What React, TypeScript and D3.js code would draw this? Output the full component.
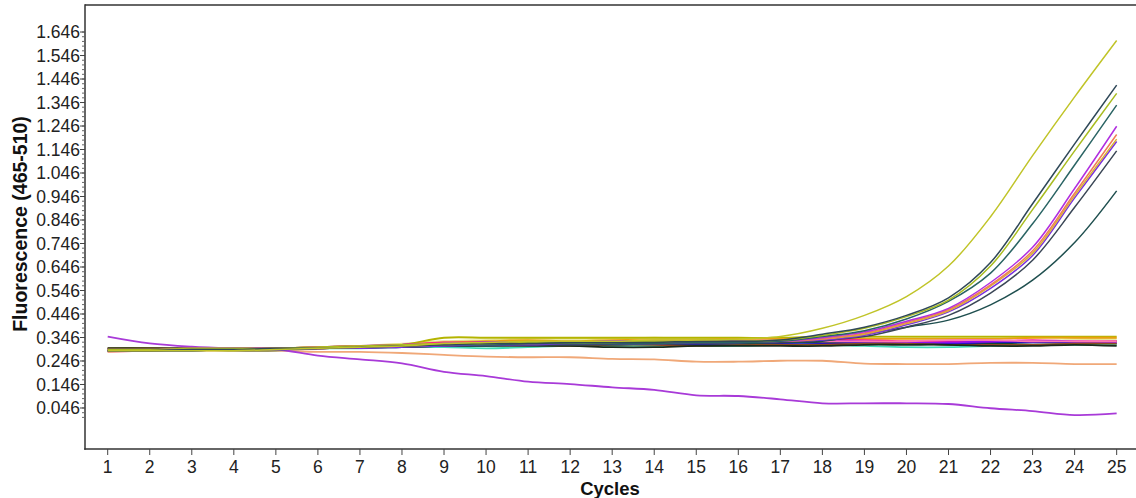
import React from 'react';
import * as d3 from 'd3';

const cycles = [1, 2, 3, 4, 5, 6, 7, 8, 9, 10, 11, 12, 13, 14, 15, 16, 17, 18, 19, 20, 21, 22, 23, 24, 25];
const yTickValues = [0.046, 0.146, 0.246, 0.346, 0.446, 0.546, 0.646, 0.746, 0.846, 0.946, 1.046, 1.146, 1.246, 1.346, 1.446, 1.546, 1.646];
const yTickLabels = ['0.046', '0.146', '0.246', '0.346', '0.446', '0.546', '0.646', '0.746', '0.846', '0.946', '1.046', '1.146', '1.246', '1.346', '1.446', '1.546', '1.646'];
const xAxisTitle = 'Cycles';
const yAxisTitle = 'Fluorescence (465-510)';

// flat (non-amplifying) samples
const flatOlive = [0.29, 0.29, 0.295, 0.3, 0.3, 0.305, 0.31, 0.315, 0.345, 0.345, 0.345, 0.345, 0.345, 0.345, 0.345, 0.345, 0.345, 0.35, 0.35, 0.35, 0.35, 0.35, 0.35, 0.35, 0.35];
const flatKhaki = [0.3, 0.3, 0.3, 0.3, 0.3, 0.305, 0.31, 0.32, 0.33, 0.335, 0.34, 0.34, 0.34, 0.345, 0.34, 0.34, 0.34, 0.345, 0.345, 0.345, 0.345, 0.345, 0.345, 0.34, 0.34];
const flatGreen = [0.3, 0.3, 0.295, 0.29, 0.29, 0.3, 0.305, 0.31, 0.315, 0.32, 0.32, 0.315, 0.315, 0.32, 0.32, 0.32, 0.32, 0.325, 0.325, 0.325, 0.32, 0.32, 0.325, 0.325, 0.33];
const flatOrange = [0.295, 0.3, 0.295, 0.295, 0.3, 0.305, 0.31, 0.315, 0.325, 0.33, 0.335, 0.33, 0.335, 0.335, 0.335, 0.34, 0.34, 0.34, 0.34, 0.34, 0.34, 0.34, 0.345, 0.345, 0.345];
const flatBlue = [0.29, 0.29, 0.295, 0.295, 0.3, 0.3, 0.305, 0.31, 0.315, 0.315, 0.32, 0.32, 0.32, 0.315, 0.315, 0.32, 0.32, 0.32, 0.325, 0.32, 0.32, 0.325, 0.325, 0.325, 0.32];
const flatMagenta = [0.29, 0.29, 0.3, 0.3, 0.3, 0.3, 0.305, 0.315, 0.325, 0.325, 0.325, 0.325, 0.32, 0.32, 0.325, 0.325, 0.33, 0.335, 0.335, 0.33, 0.33, 0.33, 0.335, 0.33, 0.33];
const flatAqua = [0.29, 0.29, 0.295, 0.295, 0.295, 0.3, 0.3, 0.305, 0.305, 0.3, 0.305, 0.31, 0.31, 0.31, 0.31, 0.31, 0.315, 0.315, 0.31, 0.305, 0.305, 0.31, 0.315, 0.315, 0.315];
const flatPurple = [0.295, 0.295, 0.3, 0.3, 0.3, 0.305, 0.31, 0.315, 0.32, 0.325, 0.325, 0.325, 0.33, 0.33, 0.325, 0.325, 0.33, 0.33, 0.33, 0.325, 0.325, 0.33, 0.33, 0.33, 0.325];
const flatBrown = [0.3, 0.3, 0.3, 0.3, 0.3, 0.3, 0.305, 0.31, 0.31, 0.315, 0.315, 0.31, 0.315, 0.315, 0.31, 0.315, 0.315, 0.315, 0.32, 0.32, 0.315, 0.315, 0.315, 0.32, 0.32];
const flatPink = [0.285, 0.29, 0.295, 0.3, 0.3, 0.3, 0.305, 0.31, 0.32, 0.32, 0.325, 0.325, 0.325, 0.33, 0.33, 0.33, 0.335, 0.33, 0.33, 0.33, 0.335, 0.335, 0.33, 0.33, 0.33];
const flatDark = [0.3, 0.3, 0.3, 0.3, 0.3, 0.3, 0.305, 0.305, 0.31, 0.31, 0.31, 0.31, 0.305, 0.305, 0.31, 0.31, 0.31, 0.31, 0.315, 0.315, 0.315, 0.31, 0.31, 0.315, 0.31];

// declining samples
const declineTan = [0.285, 0.29, 0.29, 0.29, 0.29, 0.285, 0.285, 0.28, 0.272, 0.265, 0.262, 0.262, 0.255, 0.253, 0.243, 0.243, 0.247, 0.247, 0.235, 0.233, 0.233, 0.238, 0.238, 0.233, 0.233];
const declinePurple = [0.35, 0.321, 0.307, 0.3, 0.296, 0.269, 0.253, 0.236, 0.2, 0.182, 0.158, 0.148, 0.134, 0.123, 0.1, 0.097, 0.083, 0.066, 0.066, 0.066, 0.063, 0.045, 0.033, 0.016, 0.023];

// amplifying samples
const ampYellowTop = [0.29, 0.29, 0.29, 0.29, 0.295, 0.3, 0.305, 0.31, 0.32, 0.325, 0.33, 0.33, 0.33, 0.335, 0.335, 0.34, 0.35, 0.385, 0.44, 0.52, 0.65, 0.86, 1.12, 1.37, 1.61];
const ampSlate = [0.29, 0.29, 0.295, 0.295, 0.3, 0.3, 0.305, 0.31, 0.315, 0.32, 0.32, 0.325, 0.325, 0.325, 0.33, 0.33, 0.335, 0.36, 0.39, 0.44, 0.515, 0.665, 0.915, 1.17, 1.42];
const ampYellowGreen = [0.295, 0.295, 0.3, 0.3, 0.3, 0.305, 0.31, 0.315, 0.32, 0.32, 0.325, 0.325, 0.325, 0.33, 0.33, 0.33, 0.335, 0.355, 0.385, 0.435, 0.505, 0.65, 0.89, 1.14, 1.385];
const ampTeal = [0.29, 0.29, 0.29, 0.295, 0.295, 0.3, 0.305, 0.31, 0.315, 0.315, 0.32, 0.32, 0.32, 0.32, 0.325, 0.325, 0.33, 0.35, 0.375, 0.425, 0.5, 0.62, 0.83, 1.08, 1.335];
const ampViolet = [0.295, 0.295, 0.3, 0.3, 0.3, 0.3, 0.305, 0.31, 0.32, 0.325, 0.325, 0.325, 0.33, 0.33, 0.33, 0.33, 0.33, 0.345, 0.37, 0.415, 0.47, 0.58, 0.73, 0.98, 1.245];
const ampSalmon = [0.29, 0.29, 0.295, 0.295, 0.3, 0.305, 0.31, 0.315, 0.32, 0.32, 0.325, 0.325, 0.325, 0.325, 0.33, 0.33, 0.33, 0.34, 0.365, 0.41, 0.465, 0.57, 0.715, 0.96, 1.21];
const ampGold = [0.295, 0.295, 0.3, 0.3, 0.3, 0.305, 0.31, 0.31, 0.315, 0.32, 0.32, 0.325, 0.325, 0.33, 0.33, 0.33, 0.335, 0.34, 0.36, 0.405, 0.46, 0.565, 0.705, 0.95, 1.19];
const ampBlueViolet = [0.29, 0.29, 0.29, 0.295, 0.295, 0.3, 0.3, 0.305, 0.31, 0.315, 0.315, 0.32, 0.32, 0.32, 0.325, 0.325, 0.33, 0.335, 0.355, 0.4, 0.455, 0.555, 0.695, 0.94, 1.18];
const ampDarkSlate = [0.29, 0.29, 0.295, 0.295, 0.3, 0.3, 0.305, 0.31, 0.31, 0.315, 0.315, 0.315, 0.32, 0.32, 0.32, 0.325, 0.325, 0.335, 0.35, 0.39, 0.44, 0.535, 0.675, 0.9, 1.14];
const ampDarkTeal = [0.29, 0.29, 0.29, 0.295, 0.295, 0.3, 0.3, 0.305, 0.31, 0.31, 0.315, 0.315, 0.315, 0.32, 0.32, 0.32, 0.325, 0.33, 0.36, 0.39, 0.42, 0.485, 0.59, 0.75, 0.97];

const seriesValues = [
  flatKhaki, flatOlive, flatGreen, flatOrange, flatBlue, flatMagenta, flatAqua, flatPurple, flatBrown, flatPink, flatDark,
  declineTan, declinePurple,
  ampDarkTeal, ampDarkSlate, ampBlueViolet, ampGold, ampSalmon, ampViolet, ampTeal, ampYellowGreen, ampSlate, ampYellowTop,
];
const seriesColors = [
  '#e6e08a', '#b4b400', '#0a5a0a', '#e8a010', '#2a10c0', '#ff1a8c', '#40dcb8', '#9010f0', '#8b4a20', '#ff78b0', '#1c2a1c',
  '#f0a878', '#a83ad8',
  '#1f4f4f', '#3a4656', '#7a30e0', '#d8b430', '#f07c58', '#b02ee0', '#2a6464', '#a8bc20', '#2f4858', '#c0c428',
];

export default function App() {
  const W = 1136;
  const H = 498;
  const x = d3.scaleLinear().domain([0.46, 25.46]).range([85, 1136]);
  const y = d3.scaleLinear().domain([-0.1285, 1.761]).range([449, 5]);
  const line = d3
    .line<number>()
    .x((_, i) => x(cycles[i]))
    .y((d) => y(d))
    .curve(d3.curveCatmullRom.alpha(0.5));
  const minor: number[] = [];
  for (let v = 0.006; v <= 1.647; v += 0.02) minor.push(v);
  const font = "'Liberation Sans', Arial, sans-serif";
  return (
    <svg width={W} height={H} style={{ position: 'absolute', left: 0, top: 0, background: '#fff' }}>
      <rect x={0} y={0} width={W} height={H} fill="#fff" />
      <g>
        {seriesValues.map((vals, i) => (
          <path key={i} d={line(vals) || ''} fill="none" stroke={seriesColors[i]} strokeWidth={i < 13 ? 1.8 : 1.5} />
        ))}
      </g>
      {/* frame */}
      <line x1={85} x2={W} y1={5} y2={5} stroke="#333" strokeWidth={1.5} />
      <line x1={85} x2={85} y1={4.25} y2={449.75} stroke="#333" strokeWidth={1.5} />
      <line x1={84.25} x2={W} y1={449} y2={449} stroke="#333" strokeWidth={1.5} />
      {/* y ticks */}
      {minor.map((v, i) => (
        <line key={'m' + i} x1={82} x2={85} y1={y(v)} y2={y(v)} stroke="#666" strokeWidth={1} />
      ))}
      {yTickValues.map((v, i) => (
        <g key={'y' + i}>
          <line x1={80} x2={85} y1={y(v)} y2={y(v)} stroke="#444" strokeWidth={1} />
          <text x={80} y={y(v)} dy="0.36em" textAnchor="end" fontFamily={font} fontSize={17.5} fill="#222">
            {yTickLabels[i]}
          </text>
        </g>
      ))}
      {/* x ticks */}
      {cycles.map((c) => (
        <g key={'x' + c}>
          <line x1={x(c)} x2={x(c)} y1={449} y2={455} stroke="#444" strokeWidth={1} />
          <text x={x(c)} y={473} textAnchor="middle" fontFamily={font} fontSize={17.5} fill="#222">
            {c}
          </text>
        </g>
      ))}
      <text x={610} y={495} textAnchor="middle" fontFamily={font} fontSize={18.5} fontWeight="bold" fill="#111">
        {xAxisTitle}
      </text>
      <text
        transform="translate(27,224) rotate(-90)"
        textAnchor="middle"
        fontFamily={font}
        fontSize={19.5}
        fontWeight="bold"
        fill="#111"
      >
        {yAxisTitle}
      </text>
    </svg>
  );
}
